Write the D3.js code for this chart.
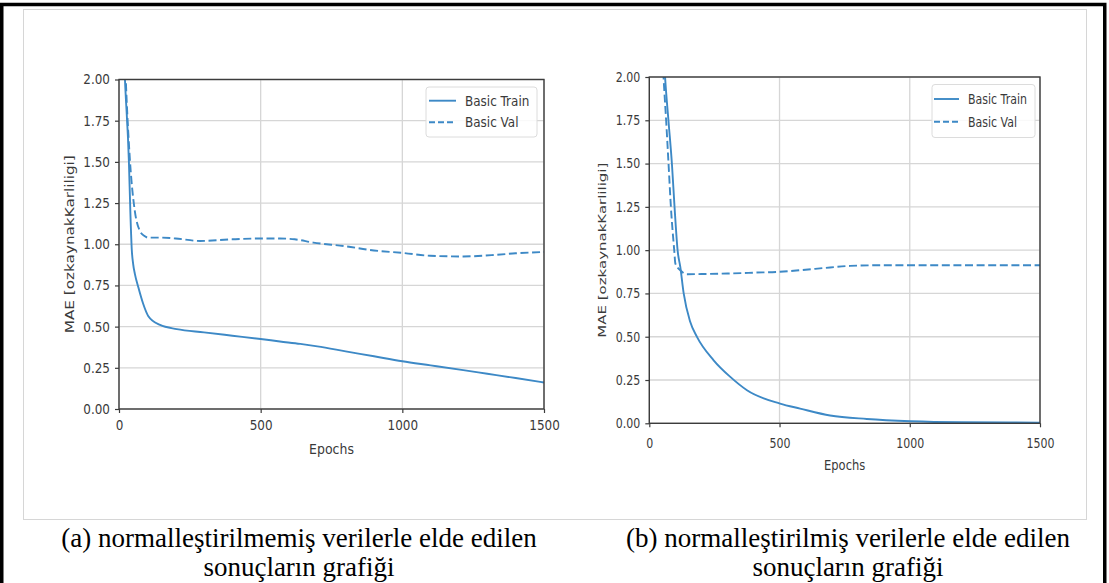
<!DOCTYPE html>
<html><head><meta charset="utf-8">
<script src="https://cdn.jsdelivr.net/npm/d3@7"></script>
<style>body{margin:0;background:#fff}svg{display:block}</style>
</head><body><svg id="c" width="1109" height="583"></svg>
<script>
// ---------- data ----------
const xTicks = [0, 500, 1000, 1500];
const yTicks = [0, 0.25, 0.5, 0.75, 1.0, 1.25, 1.5, 1.75, 2.0];
const seriesNames = ["Basic Train", "Basic Val"];
const xTitle = "Epochs";
const yTitle = "MAE [ozkaynakKarliligi]";
const captionA = ["(a) normalleştirilmemiş verilerle elde edilen", "sonuçların grafiği"];
const captionB = ["(b) normalleştirilmiş verilerle elde edilen", "sonuçların grafiği"];

// panel (a): not normalised
const aTrainEpochs = [12, 21, 35, 40, 45, 50, 56, 68, 85, 103, 145, 204, 300, 400, 500, 568, 640, 700, 800, 900, 1000, 1100, 1215, 1300, 1400, 1500];
const aTrainMAE    = [2.4, 2.0, 1.5, 1.2, 0.97, 0.88, 0.82, 0.74, 0.64, 0.565, 0.51, 0.485, 0.465, 0.445, 0.425, 0.41, 0.395, 0.38, 0.35, 0.32, 0.29, 0.265, 0.236, 0.214, 0.188, 0.161];
const aValEpochs   = [16, 24, 39, 56, 74, 90, 103, 150, 200, 286, 400, 500, 568, 620, 686, 804, 886, 1005, 1098, 1215, 1333, 1400, 1500];
const aValMAE      = [2.4, 2.0, 1.5, 1.2, 1.08, 1.05, 1.04, 1.04, 1.035, 1.02, 1.03, 1.035, 1.035, 1.03, 1.01, 0.987, 0.965, 0.947, 0.93, 0.926, 0.936, 0.945, 0.953];

// panel (b): normalised
const bTrainEpochs = [50, 61, 74, 87, 97, 109, 119, 132, 157, 183, 247, 311, 375, 502, 579, 694, 835, 1004, 1200, 1500];
const bTrainMAE    = [2.3, 1.99, 1.74, 1.495, 1.247, 0.994, 0.903, 0.75, 0.586, 0.499, 0.364, 0.268, 0.191, 0.114, 0.085, 0.045, 0.025, 0.012, 0.006, 0.004];
const bValEpochs   = [45, 55, 65, 74, 83, 96, 100, 119, 145, 200, 300, 400, 502, 579, 694, 771, 900, 1004, 1200, 1500];
const bValMAE      = [2.3, 1.99, 1.74, 1.495, 1.247, 0.994, 0.923, 0.884, 0.861, 0.862, 0.865, 0.87, 0.875, 0.884, 0.9, 0.909, 0.913, 0.913, 0.913, 0.913];

// ---------- drawing ----------
const svg = d3.select("#c");
const LINE = "#3d89c6";
const FONT = "'DejaVu Sans', sans-serif";

// page frame
svg.append("rect").attr("x", 1.75).attr("y", 4.5).attr("width", 1103).attr("height", 620)
  .attr("fill", "none").attr("stroke", "#000").attr("stroke-width", 3.5);
svg.append("rect").attr("x", 23.5).attr("y", 9.5).attr("width", 1063).attr("height", 510)
  .attr("fill", "none").attr("stroke", "#d6d6d6").attr("stroke-width", 1);

function stext(g, x, y, str, size, sy, anchor) {
  return g.append("text")
    .attr("transform", `translate(${x},${y}) scale(1,${sy})`)
    .attr("dy", "0.35em")
    .attr("text-anchor", anchor || "start")
    .attr("font-family", FONT).attr("font-size", size).attr("fill", "#3a3a3a")
    .text(str);
}

function panel(cfg) {
  const x = d3.scaleLinear().domain([0, 1500]).range([cfg.x0, cfg.x1]);
  const y = d3.scaleLinear().domain([0, 2]).range([cfg.y0, cfg.y1]);
  const g = svg.append("g");
  const id = "clip" + cfg.key;
  svg.append("clipPath").attr("id", id).append("rect")
    .attr("x", cfg.x0).attr("y", cfg.y1).attr("width", cfg.x1 - cfg.x0).attr("height", cfg.y0 - cfg.y1);

  // grid
  g.append("g").selectAll("line").data(yTicks).join("line")
    .attr("x1", cfg.x0).attr("x2", cfg.x1).attr("y1", d => y(d)).attr("y2", d => y(d))
    .attr("stroke", "#d6d6d6").attr("stroke-width", 1.3);
  g.append("g").selectAll("line").data(xTicks).join("line")
    .attr("y1", cfg.y0).attr("y2", cfg.y1).attr("x1", d => x(d)).attr("x2", d => x(d))
    .attr("stroke", "#d6d6d6").attr("stroke-width", 1.3);

  // lines
  const line = d3.line().x(d => x(d[0])).y(d => y(d[1])).curve(d3.curveMonotoneX);
  const lg = g.append("g").attr("clip-path", `url(#${id})`);
  lg.append("path").datum(d3.zip(cfg.valE, cfg.valV)).attr("d", line)
    .attr("fill", "none").attr("stroke", LINE).attr("stroke-width", 1.9).attr("stroke-dasharray", "8,3.6");
  lg.append("path").datum(d3.zip(cfg.trE, cfg.trV)).attr("d", line)
    .attr("fill", "none").attr("stroke", LINE).attr("stroke-width", 1.9);

  // axes
  const ya = g.append("g").attr("transform", `translate(${cfg.x0},0)`)
    .call(d3.axisLeft(y).tickValues(yTicks).tickFormat(d3.format(".2f")).tickSize(4).tickPadding(5));
  const xa = g.append("g").attr("transform", `translate(0,${cfg.y0})`)
    .call(d3.axisBottom(x).tickValues(xTicks).tickFormat(d3.format("d")).tickSize(4));
  [ya, xa].forEach(a => {
    a.select(".domain").remove();
    a.selectAll("line").attr("stroke", "#3c3c3c").attr("stroke-width", 1.2);
    a.selectAll("text").attr("font-family", FONT).attr("font-size", cfg.fs).attr("fill", "#3a3a3a");
  });
  ya.selectAll("text").attr("transform", `scale(1,${cfg.sy})`);
  xa.selectAll("text").attr("y", 0).attr("dy", "0.76em")
    .attr("transform", `translate(0,${cfg.xlab}) scale(1,${cfg.sy})`);

  // spines
  g.append("rect").attr("x", cfg.x0).attr("y", cfg.y1).attr("width", cfg.x1 - cfg.x0).attr("height", cfg.y0 - cfg.y1)
    .attr("fill", "none").attr("stroke", "#3c3c3c").attr("stroke-width", 1.4);

  // titles
  stext(g, (cfg.x0 + cfg.x1) / 2, cfg.y0 + cfg.xt, xTitle, cfg.fs + 0.5, cfg.sy, "middle");
  g.append("text")
    .attr("transform", `translate(${cfg.yt},${(cfg.y0 + cfg.y1) / 2}) rotate(-90)`)
    .attr("dy", "0.35em").attr("text-anchor", "middle")
    .attr("font-family", FONT).attr("font-size", cfg.fs).attr("fill", "#3a3a3a")
    .attr("textLength", cfg.ytLen).attr("lengthAdjust", "spacingAndGlyphs")
    .text(yTitle);

  // legend
  const L = cfg.leg;
  g.append("rect").attr("x", L.x).attr("y", L.y).attr("width", L.w).attr("height", L.h).attr("rx", 3)
    .attr("fill", "#fff").attr("fill-opacity", 0.85).attr("stroke", "#dcdcdc").attr("stroke-width", 1);
  seriesNames.forEach((name, i) => {
    const ry = L.r1 + i * L.dy;
    g.append("line").attr("x1", L.lx0).attr("x2", L.lx1).attr("y1", ry).attr("y2", ry)
      .attr("stroke", LINE).attr("stroke-width", 1.9)
      .attr("stroke-dasharray", i === 1 ? "6,3" : null);
    stext(g, L.tx, ry, name, cfg.fs, cfg.sy, "start");
  });
}

panel({key: "a", x0: 119, x1: 544, y0: 409, y1: 79.5, fs: 12, sy: 1.15, xlab: 11, xt: 40, yt: 70, ytLen: 178,
  trE: aTrainEpochs, trV: aTrainMAE, valE: aValEpochs, valV: aValMAE,
  leg: {x: 426, y: 87, w: 111, h: 50, r1: 100.7, dy: 21.6, lx0: 429, lx1: 456, tx: 465}});
panel({key: "b", x0: 649.3, x1: 1040, y0: 423.3, y1: 77, fs: 11, sy: 1.25, xlab: 14, xt: 42, yt: 602, ytLen: 175,
  trE: bTrainEpochs, trV: bTrainMAE, valE: bValEpochs, valV: bValMAE,
  leg: {x: 932, y: 84.5, w: 103, h: 53, r1: 99, dy: 22.7, lx0: 934, lx1: 959, tx: 968}});

// captions
function caption(lines, cx) {
  lines.forEach((s, i) => {
    svg.append("text").attr("x", cx).attr("y", 547 + i * 28.5).attr("text-anchor", "middle")
      .attr("font-family", "'Liberation Serif', 'Times New Roman', serif").attr("font-size", 27)
      .attr("fill", "#000").text(s);
  });
}
caption(captionA, 299);
caption(captionB, 848);
</script></body></html>
